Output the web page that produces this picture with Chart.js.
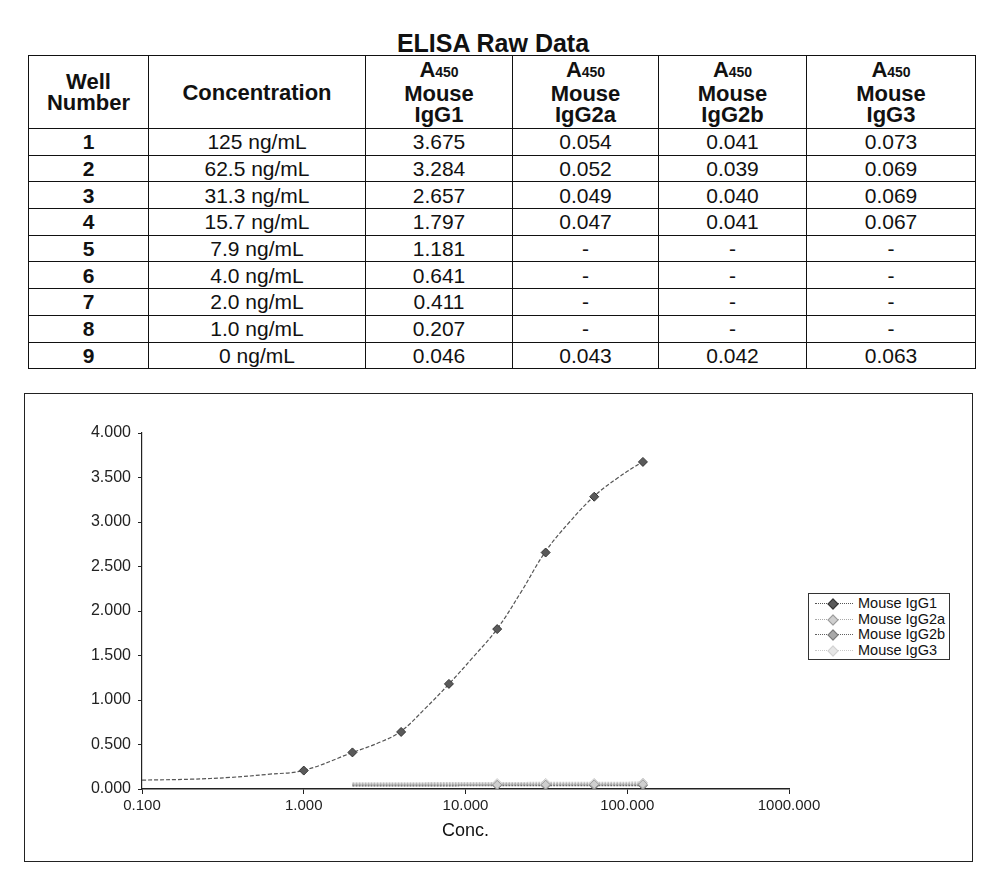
<!DOCTYPE html>
<html>
<head>
<meta charset="utf-8">
<title>ELISA Raw Data</title>
<script src="https://cdn.jsdelivr.net/npm/chart.js@4.4.1/dist/chart.umd.min.js"></script>
<style>
	body { margin: 0; background: #fff; font-family: "Liberation Sans", Arial, sans-serif; color: #111; }
	#title { position: absolute; left: 0; top: 29px; width: 986px; text-align: center; font-weight: bold; font-size: 25px; line-height: 28px; }
	#raw { position: absolute; left: 28px; top: 55px; width: 947px; border-collapse: collapse; table-layout: fixed; }
	#raw th, #raw td { border: 1.5px solid #111; padding: 0; text-align: center; font-size: 21px; }
	#raw th { height: 72px; font-weight: bold; line-height: 21px; font-size: 22px; }
	#raw td { height: 25.7px; line-height: 25px; }
	#raw td.well { font-weight: bold; }
	#raw sub { font-size: 14px; vertical-align: 0; }
	#plot-box { position: absolute; left: 24px; top: 393px; width: 949px; height: 469px; }
	#plot-frame { position: absolute; left: 24px; top: 393px; width: 949px; height: 469px; box-sizing: border-box; border: 1.5px solid #222; pointer-events: none; }
	#legend { position: absolute; left: 808px; top: 593px; width: 142px; height: 67px; box-sizing: border-box; border: 1px solid #333; background: #fff; padding-top: 2px; }
	.row { height: 15.7px; position: relative; font-size: 14.5px; line-height: 15.7px; }
	.row .ln { position: absolute; left: 6px; top: 7px; width: 38px; border-top: 1.5px dotted; }
	.row .mk { position: absolute; left: 20px; top: 4px; width: 6px; height: 6px; transform: rotate(45deg); }
	.row .tx { position: absolute; left: 49px; top: 0; }
</style>
</head>
<body>
<div id="title">ELISA Raw Data</div>
<table id="raw">
	<colgroup>
		<col style="width:120px"><col style="width:217px"><col style="width:147px">
		<col style="width:146px"><col style="width:148px"><col style="width:169px">
	</colgroup>
	<thead><tr id="head-row"></tr></thead>
	<tbody id="body-rows"></tbody>
</table>

<div id="plot-box"><canvas id="elisa-chart"></canvas></div>
<div id="plot-frame"></div>
<div id="legend"></div>

<script>
// table values
const wellNumbers = ['1', '2', '3', '4', '5', '6', '7', '8', '9'];
const concLabels = ['125 ng/mL', '62.5 ng/mL', '31.3 ng/mL', '15.7 ng/mL', '7.9 ng/mL', '4.0 ng/mL', '2.0 ng/mL', '1.0 ng/mL', '0 ng/mL'];
const concValues = [125, 62.5, 31.3, 15.7, 7.9, 4.0, 2.0, 1.0, 0];
const isotypes = ['IgG1', 'IgG2a', 'IgG2b', 'IgG3'];
const a450IgG1 = [3.675, 3.284, 2.657, 1.797, 1.181, 0.641, 0.411, 0.207, 0.046];
const a450IgG2a = [0.054, 0.052, 0.049, 0.047, null, null, null, null, 0.043];
const a450IgG2b = [0.041, 0.039, 0.040, 0.041, null, null, null, null, 0.042];
const a450IgG3 = [0.073, 0.069, 0.069, 0.067, null, null, null, null, 0.063];

// trend lines
const fitConcIgG1 = [0.1, 0.2, 0.35, 0.6, 1, 2, 3, 4, 5.6, 7.9, 11, 15.7, 22, 31.3, 44, 62.5, 88, 125];
const fitIgG1 = [0.10, 0.11, 0.13, 0.165, 0.21, 0.41, 0.53, 0.65, 0.90, 1.18, 1.47, 1.80, 2.21, 2.67, 3.00, 3.29, 3.50, 3.68];
const fitConcLow = [2, 125];
const fitIgG2a = [0.050, 0.054];
const fitIgG2b = [0.040, 0.042];
const fitIgG3 = [0.064, 0.072];

// axis ticks
const xTicks = [0.1, 1, 10, 100, 1000];
const yTicksMax = 4;
const yTicksStep = 0.5;

const a450 = [a450IgG1, a450IgG2a, a450IgG2b, a450IgG3];
const fits = [fitIgG1, fitIgG2a, fitIgG2b, fitIgG3];
const fitConcs = [fitConcIgG1, fitConcLow, fitConcLow, fitConcLow];

const looks = [
	{ line: '#555', dash: [4, 2], width: 1.2, fill: '#5a5a5a', edge: '#333' },
	{ line: '#a8a8a8', dash: [2, 1], width: 2, fill: '#cfcfcf', edge: '#999' },
	{ line: '#606060', dash: [2, 1], width: 2, fill: '#a8a8a8', edge: '#777' },
	{ line: '#c8c8c8', dash: [2, 1], width: 2, fill: '#e6e6e6', edge: '#d0d0d0' }
];

const fmt = (v) => v === null ? '-' : v.toFixed(3);

const buildTable = () => {
	const head = document.getElementById('head-row');
	let html = '<th>Well<br>Number</th><th>Concentration</th>';
	isotypes.forEach(t => {
		html += `<th>A<sub>450</sub><br>Mouse<br>${t}</th>`;
	});
	head.innerHTML = html;

	const body = document.getElementById('body-rows');
	wellNumbers.forEach((w, i) => {
		const tr = document.createElement('tr');
		let cells = `<td class="well">${w}</td><td>${concLabels[i]}</td>`;
		a450.forEach(col => {
			cells += `<td>${fmt(col[i])}</td>`;
		});
		tr.innerHTML = cells;
		body.appendChild(tr);
	});
}

const buildLegend = () => {
	const legend = document.getElementById('legend');
	isotypes.forEach((t, i) => {
		const lk = looks[i];
		const row = document.createElement('div');
		row.className = 'row';
		row.innerHTML = `<span class="ln" style="border-color:${lk.line}"></span>` +
			`<span class="mk" style="background:${lk.fill};border:1px solid ${lk.edge}"></span>` +
			`<span class="tx">Mouse ${t}</span>`;
		legend.appendChild(row);
	});
}

const makeChart = () => {
	const datasets = [];
	isotypes.forEach((t, i) => {
		const lk = looks[i];
		datasets.push({
			label: 'Mouse ' + t + ' fit',
			data: fitConcs[i].map((x, k) => ({ x: x, y: fits[i][k] })),
			showLine: true,
			borderColor: lk.line,
			borderWidth: lk.width,
			borderDash: lk.dash,
			tension: 0.4,
			pointRadius: 0,
			order: 2
		});
	});
	isotypes.forEach((t, i) => {
		const lk = looks[i];
		const pts = [];
		concValues.forEach((c, k) => {
			if (c > 0 && a450[i][k] !== null) pts.push({ x: c, y: a450[i][k] });
		});
		datasets.push({
			label: 'Mouse ' + t,
			data: pts,
			showLine: false,
			pointStyle: 'rectRot',
			pointRadius: 4.5,
			backgroundColor: lk.fill,
			borderColor: lk.edge,
			borderWidth: 1,
			order: 1
		});
	});

	const ctx = document.getElementById('elisa-chart').getContext('2d');
	new Chart(ctx, {
		type: 'scatter',
		data: { datasets: datasets },
		options: {
			responsive: true,
			maintainAspectRatio: false,
			animation: false,
			layout: { padding: { left: 0, top: 40, right: 184, bottom: 16 } },
			plugins: { legend: { display: false }, tooltip: { enabled: false } },
			scales: {
				x: {
					type: 'logarithmic',
					min: 0.1,
					max: 1000,
					afterBuildTicks: (scale) => { scale.ticks = xTicks.map(v => ({ value: v })); },
					afterFit: (scale) => { scale.height = 57; },
					grid: { drawOnChartArea: false, tickLength: 5, color: '#222' },
					border: { color: '#222', width: 1.5 },
					ticks: {
						color: '#222',
						padding: 3,
						maxRotation: 0,
						font: { family: 'Liberation Sans', size: 15 },
						callback: (v) => Number(v).toFixed(3)
					},
					title: {
						display: true,
						text: 'Conc.',
						color: '#111',
						padding: { top: 0, bottom: 4 },
						font: { family: 'Liberation Sans', size: 18 }
					}
				},
				y: {
					min: 0,
					max: yTicksMax,
					afterFit: (scale) => { scale.width = 118; },
					grid: { drawOnChartArea: false, tickLength: 4, color: '#222' },
					border: { color: '#222', width: 1.2 },
					ticks: {
						stepSize: yTicksStep,
						color: '#222',
						padding: 7,
						font: { family: 'Liberation Sans', size: 16 },
						callback: (v) => Number(v).toFixed(3)
					}
				}
			}
		}
	});
}

window.onload = () => {
	buildTable();
	buildLegend();
	makeChart();
}
</script>
</body>
</html>
